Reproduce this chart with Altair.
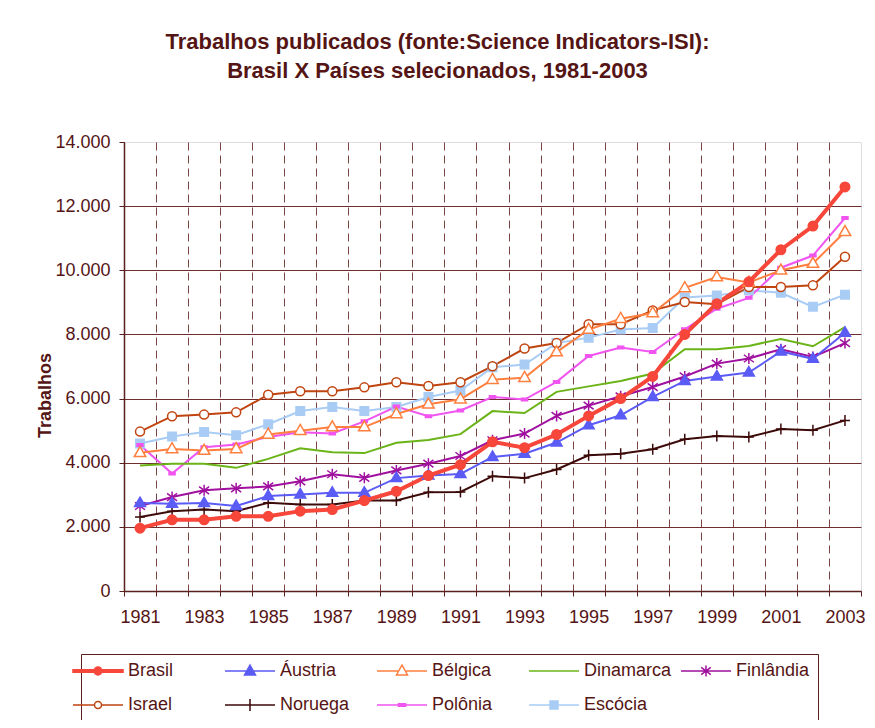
import altair as alt
import pandas as pd

years = list(range(1981, 2004))
countries = ["Brasil", "Áustria", "Bélgica", "Dinamarca", "Finlândia",
             "Israel", "Noruega", "Polônia", "Escócia"]

brasil = [1960, 2220, 2220, 2330, 2330, 2490, 2540, 2820, 3110, 3600, 3940, 4650,
          4470, 4880, 5460, 6000, 6690, 8000, 8960, 9640, 10640, 11380, 12600]
austria = [2740, 2720, 2740, 2650, 2960, 3010, 3060, 3060, 3520, 3600, 3650, 4180,
           4280, 4630, 5170, 5480, 6050, 6550, 6690, 6810, 7470, 7240, 8050]
belgica = [4310, 4430, 4380, 4430, 4880, 5000, 5110, 5110, 5520, 5820, 5980, 6590,
           6650, 7450, 8150, 8490, 8670, 9450, 9790, 9620, 10000, 10210, 11200]
dinamarca = [3910, 3970, 3970, 3840, 4120, 4450, 4330, 4300, 4620, 4710, 4890, 5610,
             5550, 6210, 6380, 6550, 6780, 7540, 7540, 7640, 7860, 7630, 8230]
finlandia = [2650, 2930, 3140, 3200, 3260, 3420, 3640, 3530, 3760, 3970, 4210, 4700,
             4910, 5460, 5780, 6070, 6360, 6690, 7090, 7250, 7540, 7300, 7730]
israel = [4970, 5450, 5500, 5570, 6120, 6230, 6230, 6350, 6510, 6390, 6510, 7010,
          7560, 7730, 8320, 8320, 8750, 9010, 8940, 9480, 9480, 9530, 10420]
noruega = [2310, 2490, 2540, 2490, 2750, 2700, 2700, 2820, 2820, 3080, 3090, 3580,
           3520, 3790, 4230, 4280, 4420, 4730, 4830, 4800, 5050, 5010, 5320]
polonia = [4550, 3660, 4480, 4570, 4800, 4950, 4910, 5290, 5750, 5450, 5630, 6050,
           5970, 6520, 7330, 7590, 7450, 8160, 8800, 9140, 10080, 10460, 11630]
escocia = [4600, 4820, 4960, 4860, 5200, 5610, 5740, 5610, 5740, 6050, 6250, 6980,
           7060, 7730, 7900, 8150, 8200, 9150, 9210, 9380, 9300, 8860, 9240]

series_values = [brasil, austria, belgica, dinamarca, finlandia,
                 israel, noruega, polonia, escocia]

colors = ["#f7463a", "#5b5bf5", "#ff7f3f", "#6ab417", "#a0109f",
          "#c04410", "#3d0a0a", "#f055f0", "#a9ccf5"]
fills = ["#f7463a", "#5b5bf5", "#ffffff", "transparent", "transparent",
         "#ffffff", "transparent", "#f055f0", "#a9ccf5"]

# marker shapes in the plot (unit = 5px at size 100)
plot_shapes = [
    "M0.95,0A0.95,0.95,0,1,1,-0.95,0A0.95,0.95,0,1,1,0.95,0Z",
    "M0,-1.2L1.1,0.7L-1.1,0.7Z",
    "M0,-1.25L1.15,0.75L-1.15,0.75Z",
    "M0,0",
    "M0,-1.1L0,1.1M-1,-0.75L1,0.75M-1,0.75L1,-0.75",
    "M0.9,0A0.9,0.9,0,1,1,-0.9,0A0.9,0.9,0,1,1,0.9,0Z",
    "M-1,0L1,0M0,-1.1L0,1.1",
    "M-0.6,-0.25L0.6,-0.25L0.6,0.25L-0.6,0.25Z",
    "M-0.85,-0.85L0.85,-0.85L0.85,0.85L-0.85,0.85Z",
]
# legend symbols: line + marker (unit = 8px at size 256)
legend_shapes = [
    "M-3.125,-0.15L3.125,-0.15L3.125,0.15L-3.125,0.15ZM0.5,0A0.5,0.5,0,1,1,-0.5,0A0.5,0.5,0,1,1,0.5,0Z",
    "M-3.125,0L3.125,0M0,-0.75L0.69,0.5L-0.69,0.5Z",
    "M-3.125,0L-0.414,0M0.414,0L3.125,0M0,-0.75L0.69,0.5L-0.69,0.5Z",
    "M-3.125,0L3.125,0",
    "M-3.125,0L3.125,0M0,-0.69L0,0.69M-0.6,-0.45L0.6,0.45M-0.6,0.45L0.6,-0.45",
    "M-3.125,0L-0.44,0M0.44,0L3.125,0M0.44,0A0.44,0.44,0,1,1,-0.44,0A0.44,0.44,0,1,1,0.44,0Z",
    "M-3.125,0L3.125,0M0,-0.75L0,0.75",
    "M-3.125,0L3.125,0M-0.44,-0.16L0.44,-0.16L0.44,0.16L-0.44,0.16Z",
    "M-3.125,0L3.125,0M-0.5,-0.5L0.5,-0.5L0.5,0.5L-0.5,0.5Z",
]

rows = []
for name, vals in reversed(list(zip(countries, series_values))):
    for yr, v in zip(years, vals):
        rows.append({"ano": yr, "serie": name, "trabalhos": v})
df = pd.DataFrame(rows)

FONT = "Liberation Sans, Arial, sans-serif"
TXT = "#551515"
AX = "#5a1f1f"

x_enc = alt.X(
    "ano:Q",
    scale=alt.Scale(domain=[years[0] - 0.5, years[-1] + 0.5], nice=False, zero=False),
    axis=alt.Axis(
        values=[y - 0.5 for y in years] + [years[-1] + 0.5],
        labelExpr="(datum.value + 0.5) % 2 == 1 ? format(datum.value + 0.5, 'd') : ''",
        labelOffset=16, labelOverlap=False, labelFlush=False,
        labelFont=FONT, labelFontSize=18, labelColor=TXT, labelPadding=12,
        ticks=True, tickSize=5, tickColor=AX, tickWidth=1,
        grid=True, gridDash=[8, 5], gridColor="#7a4545", gridWidth=1,
        gridOpacity={"condition": {"test": "datum.value > 2003", "value": 0}, "value": 1},
        domainColor=AX, domainWidth=1.5, title=None,
    ),
)
y_enc = alt.Y(
    "trabalhos:Q",
    scale=alt.Scale(domain=[0, 14000], nice=False),
    axis=alt.Axis(
        values=list(range(0, 14001, 2000)),
        labelExpr="replace(format(datum.value, ','), ',', '.')",
        labelFont=FONT, labelFontSize=18, labelColor=TXT, labelPadding=9,
        ticks=True, tickSize=5, tickColor=AX, tickWidth=1,
        grid=True, gridColor="#6e2e2e", gridWidth=1,
        gridOpacity={"condition": {"test": "datum.value == 14000", "value": 0}, "value": 1},
        domainColor=AX, domainWidth=1.5,
        title="Trabalhos", titleFont=FONT, titleFontSize=18, titleFontWeight="bold",
        titleColor=TXT, titleAngle=270, titleX=-74, titleY=253,
        titleAlign="center", titleBaseline="alphabetic",
    ),
)

base = alt.Chart(df)

lines_other = base.transform_filter("datum.serie != 'Brasil'").mark_line(strokeWidth=2).encode(
    x=x_enc, y=y_enc,
    color=alt.Color("serie:N", scale=alt.Scale(domain=countries, range=colors), legend=None),
)
lines_brasil = base.transform_filter("datum.serie == 'Brasil'").mark_line(strokeWidth=4).encode(
    x=x_enc, y=y_enc,
    color=alt.Color("serie:N", scale=alt.Scale(domain=countries, range=colors), legend=None),
)
points = base.transform_filter("datum.serie != 'Dinamarca'").mark_point(
    size=100, strokeWidth=1.5, opacity=1
).encode(
    x=x_enc, y=y_enc,
    shape=alt.Shape("serie:N", scale=alt.Scale(domain=countries, range=plot_shapes), legend=None),
    stroke=alt.Stroke("serie:N", scale=alt.Scale(domain=countries, range=colors), legend=None),
    fill=alt.Fill("serie:N", scale=alt.Scale(domain=countries, range=fills), legend=None),
)

leg = alt.Legend(
    orient="none", legendX=-43, legendY=512, direction="horizontal", columns=5,
    title=None, labelFont=FONT, labelFontSize=18, labelColor=TXT, labelOffset=21,
    symbolSize=256, symbolStrokeWidth=1.5, strokeColor="#5a2020", padding=8,
    columnPadding=6, rowPadding=16, gridAlign="all", labelLimit=250, fillColor="white",
)
legend_layer = base.transform_filter("false").mark_point(
    size=256, strokeWidth=1.5, opacity=1
).encode(
    shape=alt.Shape("serie:N", scale=alt.Scale(domain=countries, range=legend_shapes), legend=leg),
    stroke=alt.Stroke("serie:N", scale=alt.Scale(domain=countries, range=colors), legend=leg),
    fill=alt.Fill("serie:N", scale=alt.Scale(domain=countries, range=fills), legend=leg),
)

chart = alt.layer(lines_other, lines_brasil, points, legend_layer).resolve_scale(
    shape="independent", stroke="independent", fill="independent"
).properties(
    width=737, height=449,
    autosize=alt.AutoSizeParams(type="none"),
    padding={"left": 116, "top": 134, "right": 6, "bottom": 129},
    title=alt.Title(
        ["Trabalhos publicados (fonte:Science Indicators-ISI):",
         "Brasil X Países selecionados, 1981-2003"],
        font=FONT, fontSize=22, fontWeight="bold", color=TXT,
        anchor="middle", frame="group", dx=-55, offset=50, lineHeight=29,
    ),
).configure_view(stroke="#a89e90", strokeWidth=1.5).configure(background="white")

chart.save("out.html", embed_options={"renderer": "svg", "actions": False})
